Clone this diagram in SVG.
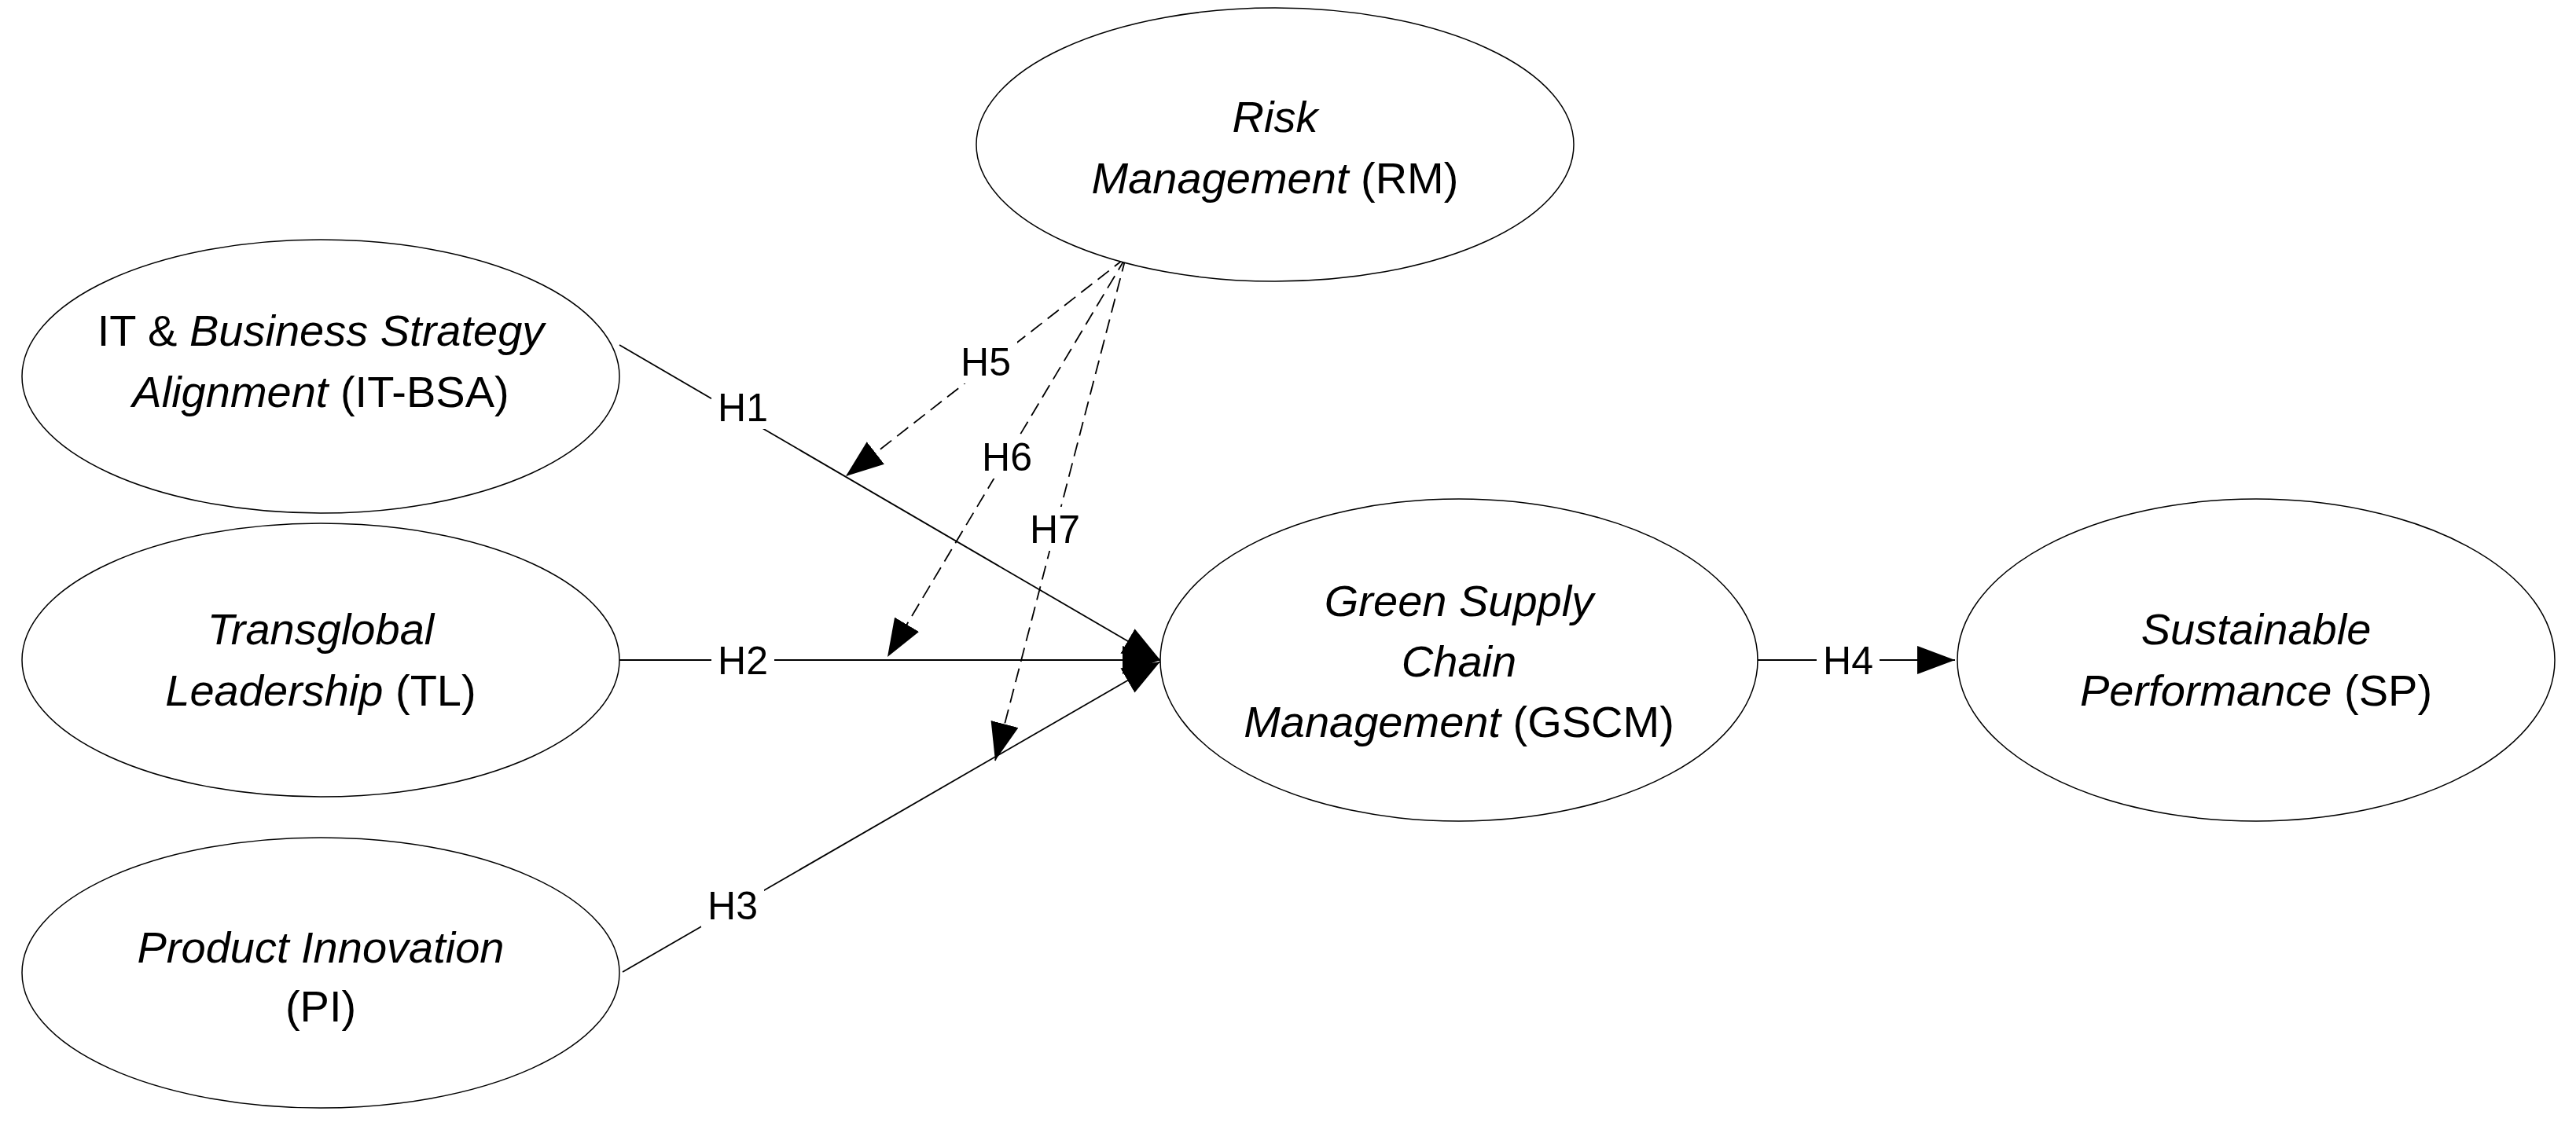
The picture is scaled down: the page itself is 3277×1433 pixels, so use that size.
<svg xmlns="http://www.w3.org/2000/svg" width="3277" height="1433" viewBox="0 0 3277 1433">
<style>
.n{fill:#fff;stroke:#000;stroke-width:1.5}
text{font-family:"Liberation Sans",Arial,sans-serif;font-size:56px;fill:#000;text-anchor:middle}
.i{font-style:italic}
.l{stroke:#000;stroke-width:1.8;fill:none}
.d{stroke:#000;stroke-width:1.8;fill:none;stroke-dasharray:18 9}
.lb{font-size:50px}
</style>
<defs>
<marker id="a" markerUnits="userSpaceOnUse" markerWidth="50" markerHeight="40" refX="48" refY="18" orient="auto">
<path d="M0,0 L48,18 L0,36 Z" fill="#000"/>
</marker>
</defs>
<rect width="3277" height="1433" fill="#fff"/>
<g id="connectors">
<path class="l" d="M788,439 L1476,840" marker-end="url(#a)"/>
<path class="l" d="M788,840 L1476,840" marker-end="url(#a)"/>
<path class="l" d="M792,1237 L1476,842" marker-end="url(#a)"/>
<path class="l" d="M2236,840 L2487,840" marker-end="url(#a)"/>
<path class="d" d="M1432,328 L1076,606" marker-end="url(#a)"/>
<path class="d" d="M1432,328 L1129,836" marker-end="url(#a)"/>
<path class="d" d="M1432,328 L1266,968" marker-end="url(#a)"/>
<g fill="#fff">
<rect x="905" y="490" width="80" height="56"/>
<rect x="905" y="812" width="80" height="56"/>
<rect x="892" y="1124" width="80" height="56"/>
<rect x="2311" y="812" width="80" height="56"/>
<rect x="1214" y="432" width="80" height="56"/>
<rect x="1241" y="553" width="80" height="56"/>
<rect x="1302" y="645" width="80" height="56"/>
</g>
<text class="lb" x="945" y="536">H1</text>
<text class="lb" x="945" y="858">H2</text>
<text class="lb" x="932" y="1170">H3</text>
<text class="lb" x="2351" y="858">H4</text>
<text class="lb" x="1254" y="478">H5</text>
<text class="lb" x="1281" y="599">H6</text>
<text class="lb" x="1342" y="691">H7</text>
</g>
<g id="itbsa"><ellipse class="n" cx="408" cy="479" rx="380" ry="174"/>
<text x="408" y="440">IT &amp; <tspan class="i">Business Strategy</tspan></text>
<text x="408" y="518"><tspan class="i">Alignment</tspan> (IT-BSA)</text></g>
<g id="tl"><ellipse class="n" cx="408" cy="840" rx="380" ry="174"/>
<text class="i" x="408" y="820">Transglobal</text>
<text x="408" y="898"><tspan class="i">Leadership</tspan> (TL)</text></g>
<g id="pi"><ellipse class="n" cx="408" cy="1238" rx="380" ry="172"/>
<text class="i" x="408" y="1225">Product Innovation</text>
<text x="408" y="1300">(PI)</text></g>
<g id="rm"><ellipse class="n" cx="1622" cy="184" rx="380" ry="174"/>
<text class="i" x="1622" y="168">Risk</text>
<text x="1622" y="246"><tspan class="i">Management</tspan> (RM)</text></g>
<g id="gscm"><ellipse class="n" cx="1856" cy="840" rx="380" ry="205"/>
<text class="i" x="1856" y="784">Green Supply</text>
<text class="i" x="1856" y="861">Chain</text>
<text x="1856" y="938"><tspan class="i">Management</tspan> (GSCM)</text></g>
<g id="sp"><ellipse class="n" cx="2870" cy="840" rx="380" ry="205"/>
<text class="i" x="2870" y="820">Sustainable</text>
<text x="2870" y="898"><tspan class="i">Performance</tspan> (SP)</text></g>
</svg>
